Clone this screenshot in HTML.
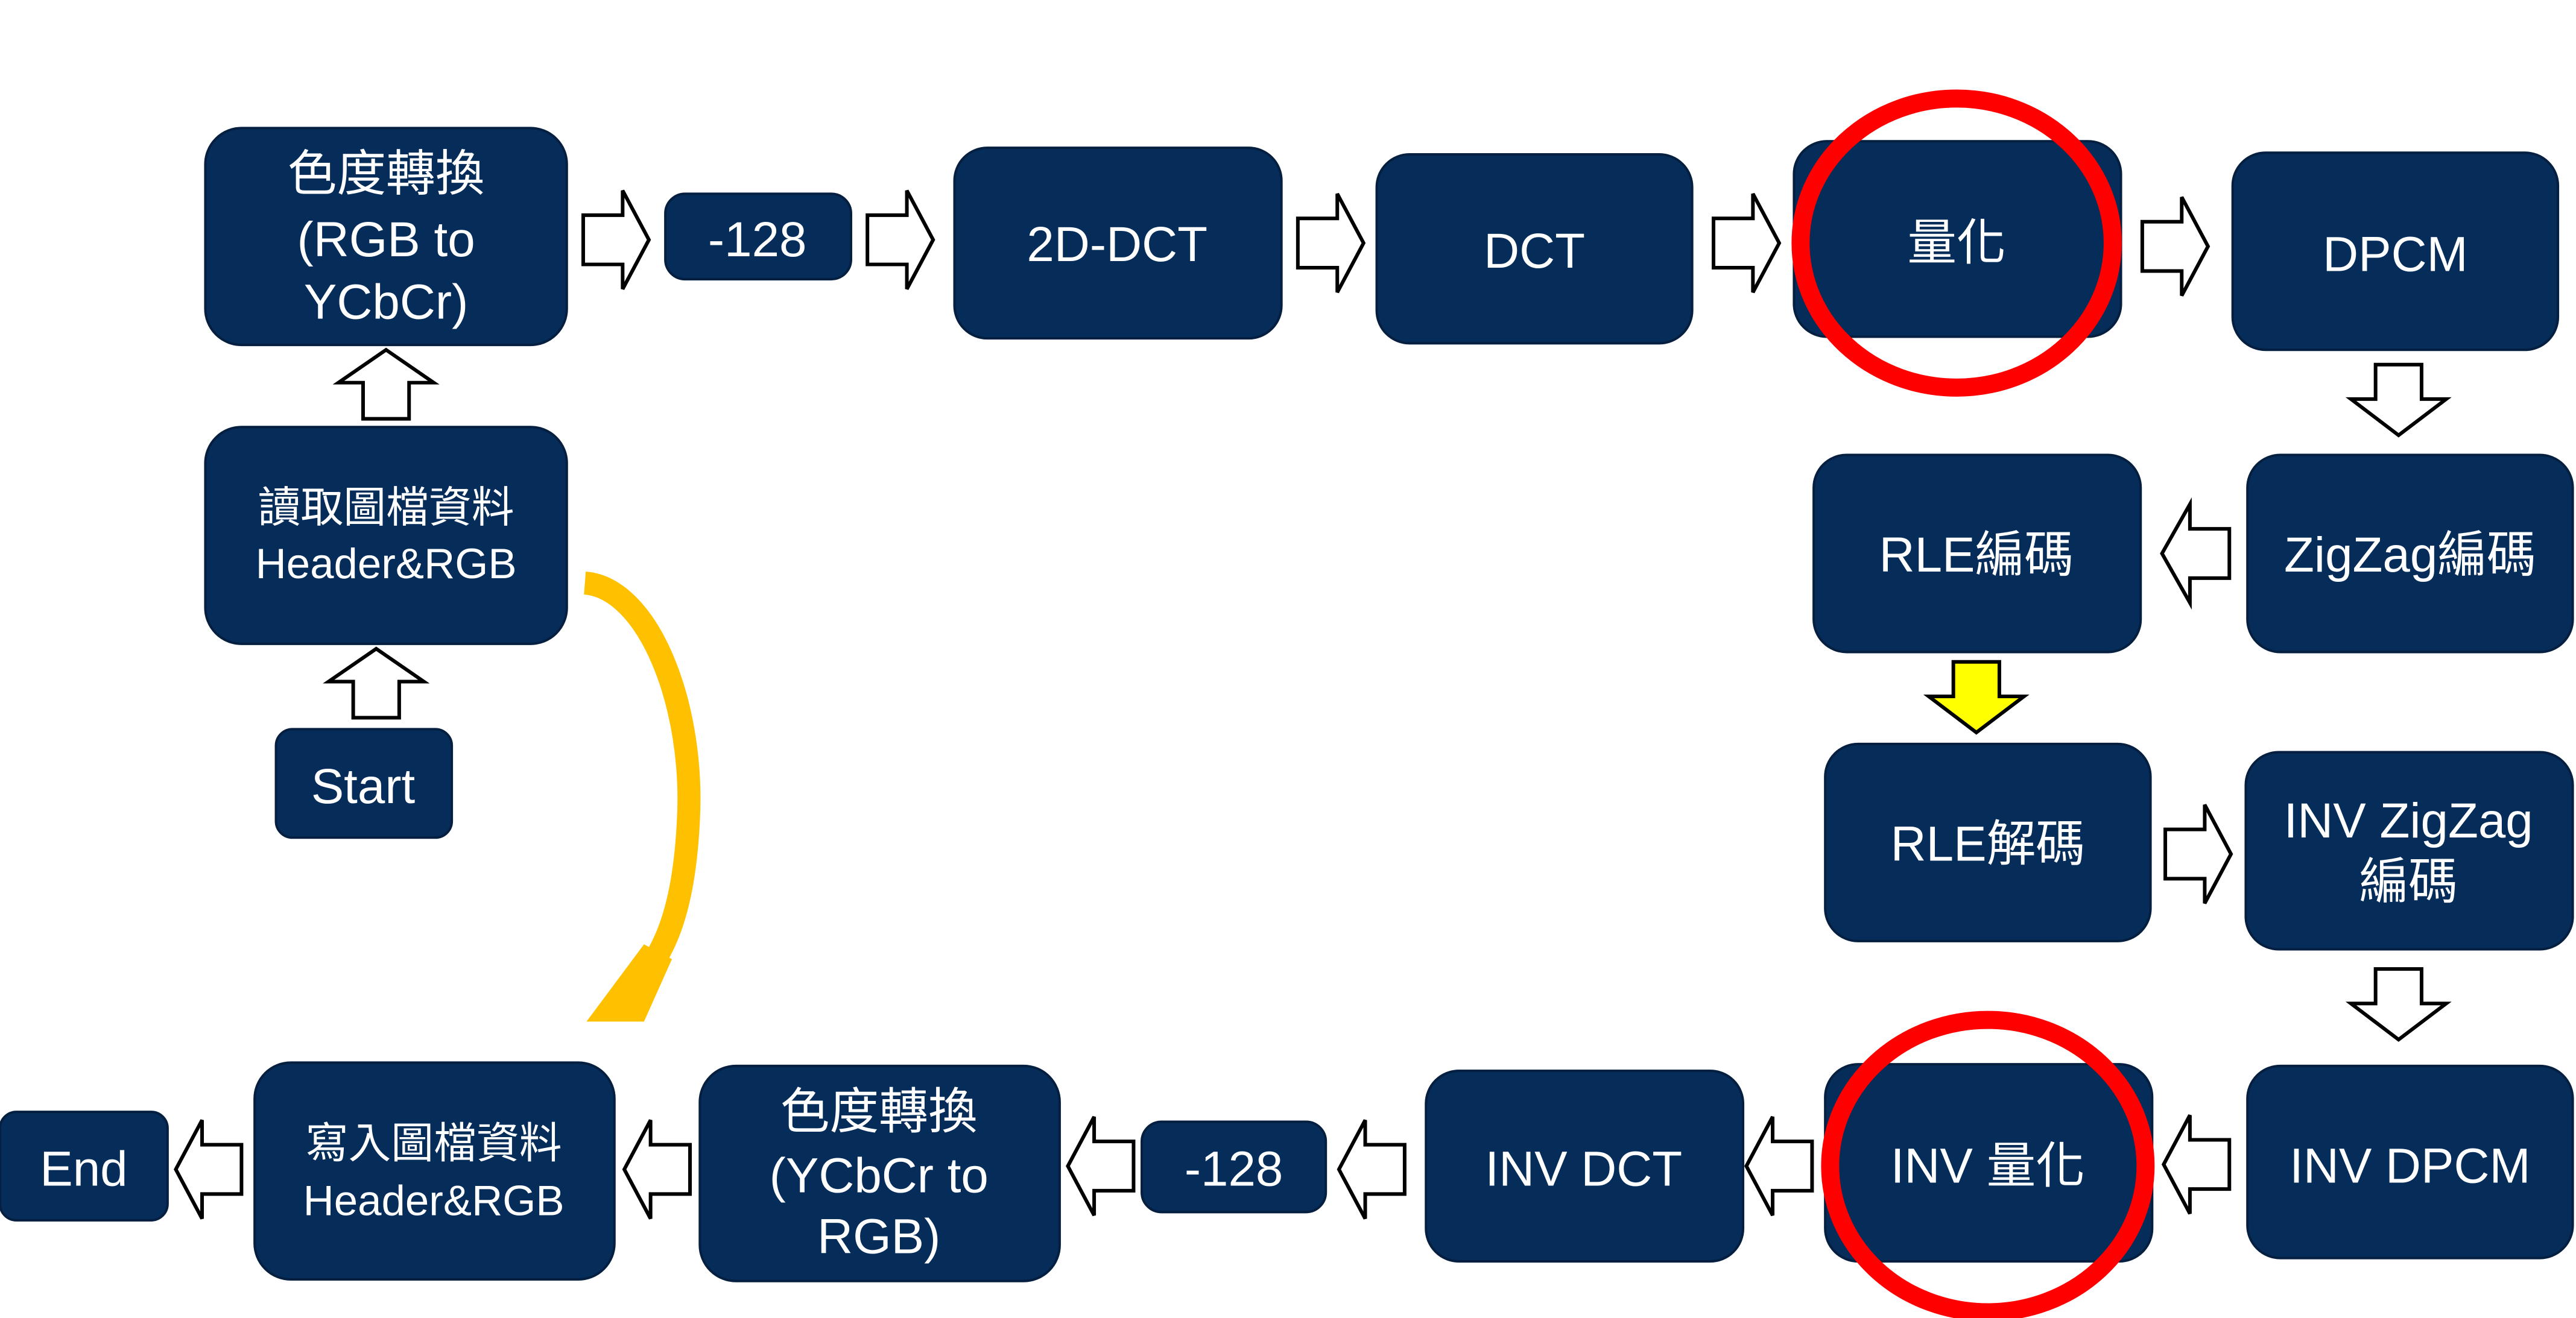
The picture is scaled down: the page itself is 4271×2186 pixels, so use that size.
<!DOCTYPE html>
<html><head><meta charset="utf-8"><style>
html,body{margin:0;padding:0;background:#fff;}
svg{display:block;}
text{font-family:"Liberation Sans","Noto Sans CJK TC",sans-serif;fill:#fff;font-size:30px;text-anchor:middle;}
.b{fill:#062d5a;stroke:#041f40;stroke-width:1.5;}
.a{fill:#fff;stroke:#000;stroke-width:2.2;}
</style></head><body>
<svg width="4271" height="2186" viewBox="0 0 1568 802.5" preserveAspectRatio="none" xmlns="http://www.w3.org/2000/svg">
<rect class="b" x="125" y="78" width="220" height="132" rx="22"/>
<text x="235" y="116">色度轉換</text><text x="235" y="156">(RGB to</text><text x="235" y="194">YCbCr)</text>
<rect class="b" x="405" y="118" width="113" height="52" rx="12"/>
<text x="461" y="156">-128</text>
<rect class="b" x="581" y="90" width="199" height="116" rx="20"/>
<text x="680" y="159">2D-DCT</text>
<rect class="b" x="838" y="94" width="192" height="115" rx="20"/>
<text x="934" y="163">DCT</text>
<rect class="b" x="1092" y="86" width="199" height="119" rx="20"/>
<text x="1191" y="158">量化</text>
<rect class="b" x="1359" y="93" width="198" height="120" rx="20"/>
<text x="1458" y="165">DPCM</text>
<rect class="b" x="1104" y="277" width="199" height="120" rx="20"/>
<text x="1203" y="348">RLE編碼</text>
<rect class="b" x="1368" y="277" width="198" height="120" rx="20"/>
<text x="1467" y="348">ZigZag編碼</text>
<rect class="b" x="1111" y="453" width="198" height="120" rx="20"/>
<text x="1210" y="524">RLE解碼</text>
<rect class="b" x="1367" y="458" width="199" height="120" rx="20"/>
<text x="1466" y="510">INV ZigZag</text><text x="1466" y="547">編碼</text>
<rect class="b" x="1368" y="649" width="198" height="117" rx="20"/>
<text x="1467" y="720">INV DPCM</text>
<rect class="b" x="1111" y="648" width="199" height="120" rx="20"/>
<text x="1210" y="720">INV 量化</text>
<rect class="b" x="868" y="652" width="193" height="116" rx="20"/>
<text x="964" y="722">INV DCT</text>
<rect class="b" x="695" y="683" width="112" height="55" rx="12"/>
<text x="751" y="722">-128</text>
<rect class="b" x="426" y="649" width="219" height="131" rx="22"/>
<text x="535" y="687">色度轉換</text><text x="535" y="726">(YCbCr to</text><text x="535" y="763">RGB)</text>
<rect class="b" x="155" y="647" width="219" height="132" rx="22"/>
<text x="264" y="705" style="font-size:26px">寫入圖檔資料</text><text x="264" y="740" style="font-size:26px">Header&amp;RGB</text>
<rect class="b" x="0" y="677" width="102" height="66" rx="10"/>
<text x="51" y="722">End</text>
<rect class="b" x="125" y="260" width="220" height="132" rx="22"/>
<text x="235" y="318" style="font-size:26px">讀取圖檔資料</text><text x="235" y="352" style="font-size:26px">Header&amp;RGB</text>
<rect class="b" x="168" y="444" width="107" height="66" rx="10"/>
<text x="221" y="489">Start</text>
<g class="a">
<polygon points="355,131 379,131 379,116 395,146 379,176 379,161 355,161"/>
<polygon points="528,131 552,131 552,116 568,146 552,176 552,161 528,161"/>
<polygon points="790,133 814,133 814,118 830,148 814,178 814,163 790,163"/>
<polygon points="1043,133 1067,133 1067,118 1083,148 1067,178 1067,163 1043,163"/>
<polygon points="1304,135 1328,135 1328,120 1344,150 1328,180 1328,165 1304,165"/>
<polygon points="1318,505 1342,505 1342,490 1358,520 1342,550 1342,535 1318,535"/>
<polygon points="1357,322 1333,322 1333,307 1316,337 1333,367 1333,352 1357,352"/>
<polygon points="1357,694 1333,694 1333,679 1317,709 1333,739 1333,724 1357,724"/>
<polygon points="1103,695 1079,695 1079,680 1063,710 1079,740 1079,725 1103,725"/>
<polygon points="855,697 831,697 831,682 815,712 831,742 831,727 855,727"/>
<polygon points="690,695 666,695 666,680 650,710 666,740 666,725 690,725"/>
<polygon points="420,697 396,697 396,682 380,712 396,742 396,727 420,727"/>
<polygon points="147,697 123,697 123,682 107,712 123,742 123,727 147,727"/>
<polygon points="221,255 221,233 206,233 235,213 264,233 249,233 249,255"/>
<polygon points="215,437 215,415 200,415 229,395 258,415 243,415 243,437"/>
<polygon points="1446,222 1446,243 1431,243 1460,265 1489,243 1474,243 1474,222"/>
<polygon points="1446,590 1446,611 1431,611 1460,633 1489,611 1474,611 1474,590"/>
<polygon style="fill:#ffff00" points="1189,403 1189,424 1174,424 1203,446 1232,424 1217,424 1217,403"/>
</g>
<ellipse cx="1191" cy="148" rx="95" ry="88" fill="none" stroke="#ff0000" stroke-width="11"/>
<ellipse cx="1210" cy="710" rx="96" ry="89" fill="none" stroke="#ff0000" stroke-width="11"/>
<path d="M356,355 C395,358 423,430 419,500 C417,540 410,565 400,582" fill="none" stroke="#ffc000" stroke-width="14"/>
<polygon points="392,575 409,584 392,622 357,622" fill="#ffc000"/>
</svg>
</body></html>
